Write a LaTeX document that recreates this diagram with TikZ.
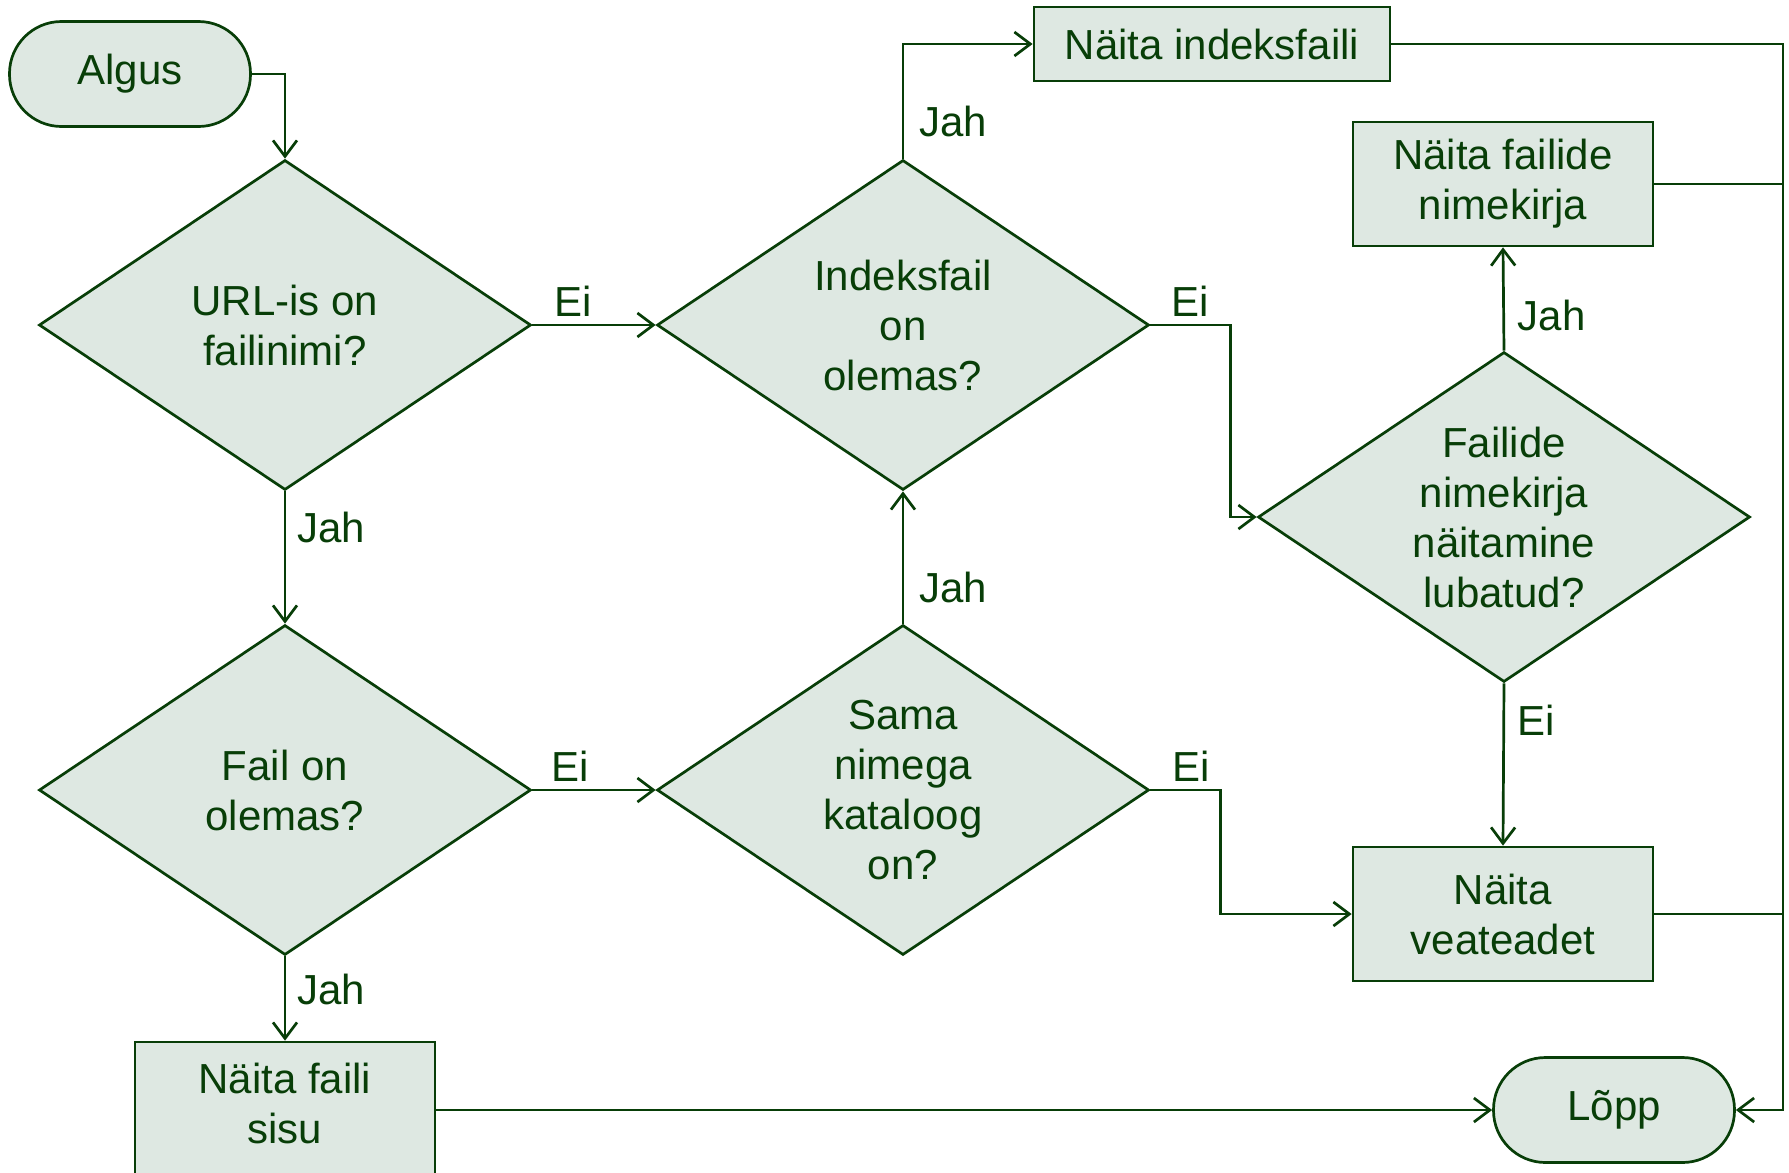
\documentclass[tikz,border=0pt]{standalone}
\usepackage{fontspec}
\setmainfont{Liberation Sans}
\usetikzlibrary{shapes.geometric,arrows.meta}
\definecolor{joon}{RGB}{8,62,8}
\definecolor{taust}{RGB}{222,232,226}
\begin{document}
\begin{tikzpicture}[x=0.5pt,y=-0.5pt,
    font=\fontsize{21}{25}\selectfont,
    every node/.style={text=joon},
    plokk/.style={draw=joon,fill=taust,line width=1.35pt,align=center,inner sep=0pt},
    otsus/.style={plokk,diamond,aspect=1.5,minimum width=246pt,minimum height=165pt},
    terminal/.style={plokk,rectangle,rounded corners=26pt,minimum width=120.5pt,minimum height=52.5pt},
    kast/.style={plokk,rectangle,minimum width=150pt},
    nool/.style={draw=joon,line width=1.35pt,-{Straight Barb[length=8pt,width=12pt]}},
    seos/.style={draw=joon,line width=1.35pt}]
                \useasboundingbox (0,0) rectangle (1789,1173);
                \node[terminal] (algus) at (130,74) {Algus};
                \node[otsus] (url) at (285,325) {URL-is on\\failinimi?};
                \node[otsus] (fail) at (285,790) {Fail on\\olemas?};
                \node[kast,minimum height=68pt,text depth=7pt] (sisu) at (285,1110) {Näita faili\\sisu};
                \node[otsus] (indeks) at (903,325) {Indeksfail\\on\\olemas?};
                \node[otsus] (kataloog) at (903,790) {Sama\\nimega\\kataloog\\on?};
                \node[kast,minimum width=178pt,minimum height=37pt] (naitaindeks) at (1212,44) {Näita indeksfaili};
                \node[kast,minimum height=62pt] (nimekiri) at (1503,184) {Näita failide\\nimekirja};
                \node[otsus] (lubatud) at (1504,517) {Failide\\nimekirja\\näitamine\\lubatud?};
                \node[kast,minimum height=67pt] (viga) at (1503,914) {Näita\\veateadet};
                \node[terminal] (lopp) at (1614,1110) {Lõpp};
                \coordinate (siin) at (1783,1110);
                \draw[nool] (algus.east) -| (url.north);
                \draw[nool] (url.east) -- node[pos=0.33,above] {Ei} (indeks.west);
                \draw[nool] (url.south) -- node[pos=0.27,right=2pt] {Jah} (fail.north);
                \draw[nool] (fail.east) -- node[pos=0.31,above] {Ei} (kataloog.west);
                \draw[nool] (fail.south) -- node[pos=0.39,right=2pt] {Jah} (sisu.north);
                \draw[nool] (kataloog.north) -- node[pos=0.27,right=4pt] {Jah} (indeks.south);
                \draw[nool] (indeks.north) |- node[pos=0.16,right=4pt] {Jah} (naitaindeks.west);
                \draw[nool] (indeks.east) -- node[above] {Ei} ++(80,0) |- (lubatud.west);
                \draw[nool] (kataloog.east) -- node[pos=0.58,above] {Ei} ++(70,0) |- (viga.west);
                \draw[nool] (lubatud.north) -- node[pos=0.34,right=3pt] {Jah} (nimekiri.south);
                \draw[nool] (lubatud.south) -- node[pos=0.23,right=3pt] {Ei} (viga.north);
                \draw[nool] (sisu.east) -- (lopp.west);
                \draw[nool] (naitaindeks.east) -| (siin) -- (lopp.east);
                \draw[seos] (nimekiri.east) -- (nimekiri.east -| siin);
                \draw[seos] (viga.east) -- (viga.east -| siin);
            \end{tikzpicture}
\end{document}
